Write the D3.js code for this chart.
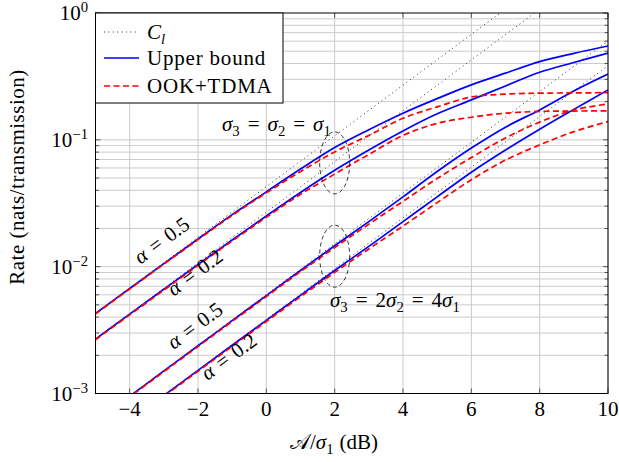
<!DOCTYPE html>
<html><head><meta charset="utf-8">
<script src="https://cdn.jsdelivr.net/npm/d3@7"></script>
<style>body{margin:0;background:#fff} text{fill:#000}</style>
</head><body><svg id="c" width="619" height="462" font-family="'Liberation Serif', 'DejaVu Serif', serif"></svg>
<script>
// ---------- data ----------
const snr = [-5,-4,-3,-2,-1,0,1,2,3,4,5,6,7,8,9,10];          // A/sigma1 (dB)
const snrCl = [-5,0,5,10];
// sigma3 = sigma2 = sigma1
const clEqA05 = [0.00428,0.0428,0.428,4.28];
const clEqA02 = [0.00269,0.0269,0.269,2.69];
const ubEqA05 = [0.004276,0.00673,0.01057,0.01652,0.0257,0.0389,0.0589,0.0871,0.1202,0.1622,0.2113,0.271,0.3357,0.414,0.481,0.5495];
const ookEqA05= [0.004246,0.006668,0.01047,0.01633,0.02535,0.0382,0.05623,0.08035,0.1084,0.1479,0.182,0.2178,0.2291,0.2333,0.2344,0.2355];
const ubEqA02 = [0.002685,0.004227,0.006637,0.0104,0.01622,0.02512,0.03846,0.05754,0.08318,0.1175,0.1603,0.2065,0.2661,0.3412,0.4074,0.4831];
const ookEqA02= [0.002655,0.004169,0.006531,0.01023,0.01592,0.02455,0.03715,0.0537,0.0767,0.1084,0.1349,0.1507,0.1622,0.1675,0.1687,0.169];
// sigma3 = 2 sigma2 = 4 sigma1
const clUnA05 = [0.000603,0.00603,0.0603,0.603];
const clUnA02 = [0.000384,0.00384,0.0384,0.384];
const ubUnA05 = [0.0006026,0.0009506,0.001507,0.002377,0.003758,0.005916,0.009333,0.01462,0.02265,0.03548,0.05623,0.0861,0.1259,0.1722,0.2427,0.3296];
const ookUnA05= [0.0005957,0.0009397,0.001486,0.002344,0.003698,0.005808,0.00912,0.01413,0.02163,0.03273,0.04955,0.07244,0.1035,0.138,0.1718,0.1919];
const ubUnA02 = [0.0003837,0.000608,0.000964,0.00152,0.002399,0.003776,0.005943,0.009333,0.01445,0.02265,0.03548,0.05559,0.08318,0.1213,0.1738,0.2477];
const ookUnA02= [0.0003802,0.0006026,0.0009506,0.001496,0.002355,0.003698,0.005794,0.009016,0.0138,0.02089,0.03199,0.04842,0.06918,0.0912,0.1161,0.1393];

const xTicks = [-4,-2,0,2,4,6,8,10];
const xTickLabels = ["\u22124","\u22122","0","2","4","6","8","10"];
const yTicks = [1e-3,1e-2,1e-1,1];
const yTickExp = ["\u22123","\u22122","\u22121","0"];
const legendLabels = ["Upper bound","OOK+TDMA"];

// ---------- layout ----------
const svg = d3.select("#c");
const L=95.5, R=608, T=13, B=393.5;
const x = d3.scaleLinear().domain([-5,10]).range([L,R]);
const y = d3.scaleLog().domain([1e-3,1]).range([B,T]);
const FS = 21;

function rich(sel, parts, size){
  let off=0;
  parts.forEach(p=>{
    const ts=sel.append("tspan").text(p.t);
    const target = p.sub?5:(p.sup?-8:0);
    ts.attr("dy", target-off); off=target;
    if(p.sub||p.sup) ts.attr("font-size", size*0.7);
    if(p.it) ts.attr("font-style","italic");
    if(p.dx) ts.attr("dx", p.dx);
  });
}

svg.append("defs").append("clipPath").attr("id","clip")
  .append("rect").attr("x",L).attr("y",T).attr("width",R-L).attr("height",B-T);

// grid
const grid = svg.append("g").attr("stroke","#cbcbcb").attr("stroke-width",1);
const minor=[];
for(let e=-3;e<0;e++) for(let k=1;k<10;k++) minor.push(k*Math.pow(10,e));
grid.selectAll(".h").data(minor).join("line")
  .attr("x1",L).attr("x2",R).attr("y1",d=>y(d)).attr("y2",d=>y(d));
grid.selectAll(".v").data(xTicks).join("line")
  .attr("y1",T).attr("y2",B).attr("x1",d=>x(d)).attr("x2",d=>x(d));

// ticks (inward)
const tk = svg.append("g").attr("stroke","#333").attr("stroke-width",0.8);
xTicks.forEach(v=>{
  tk.append("line").attr("x1",x(v)).attr("x2",x(v)).attr("y1",B).attr("y2",B-5);
  tk.append("line").attr("x1",x(v)).attr("x2",x(v)).attr("y1",T).attr("y2",T+5);
});
minor.concat([1]).forEach(v=>{
  const maj = yTicks.some(t=>Math.abs(t-v)/v<1e-6);
  const len = maj?5:3.5;
  tk.append("line").attr("x1",L).attr("x2",L+len).attr("y1",y(v)).attr("y2",y(v));
  tk.append("line").attr("x1",R).attr("x2",R-len).attr("y1",y(v)).attr("y2",y(v));
});

// curves
const plot = svg.append("g").attr("clip-path","url(#clip)");
const line = d3.line().x(d=>x(d[0])).y(d=>y(d[1])).curve(d3.curveCatmullRom.alpha(0.5));
const zipS = (xs,vs)=>xs.map((v,i)=>[v,vs[i]]);
[clEqA05,clEqA02,clUnA05,clUnA02].forEach(s=>{
  plot.append("path").attr("d",line(zipS(snrCl,s))).attr("fill","none")
    .attr("stroke","#333").attr("stroke-width",1).attr("stroke-dasharray","1,3.4");
});
[ubEqA05,ubEqA02,ubUnA05,ubUnA02].forEach(s=>{
  plot.append("path").attr("d",line(zipS(snr,s))).attr("fill","none")
    .attr("stroke","#0000ff").attr("stroke-width",1.7);
});
[ookEqA05,ookEqA02,ookUnA05,ookUnA02].forEach(s=>{
  plot.append("path").attr("d",line(zipS(snr,s))).attr("fill","none")
    .attr("stroke","#ff0000").attr("stroke-width",1.7).attr("stroke-dasharray","6,3.5");
});

// ellipses (annotation)
[[2,0.0658],[2,0.0121]].forEach(c=>{
  svg.append("ellipse").attr("cx",x(c[0])).attr("cy",y(c[1])).attr("rx",15).attr("ry",31)
    .attr("fill","none").attr("stroke","#000").attr("stroke-width",0.8).attr("stroke-dasharray","4,3");
});

// frame
svg.append("rect").attr("x",L).attr("y",T).attr("width",R-L).attr("height",B-T)
  .attr("fill","none").attr("stroke","#000").attr("stroke-width",1);

// tick labels
xTicks.forEach((v,i)=>{
  svg.append("text").attr("x",x(v)).attr("y",416).attr("text-anchor","middle")
    .attr("font-size",FS).text(xTickLabels[i]);
});
yTicks.forEach((v,i)=>{
  const t=svg.append("text").attr("x",88).attr("y",y(v)+7).attr("text-anchor","end").attr("font-size",FS);
  rich(t,[{t:"10"},{t:yTickExp[i],sup:true}],FS);
});

// axis titles
const xl = svg.append("text").attr("x",334).attr("y",449).attr("font-size",FS).attr("text-anchor","middle");
rich(xl,[{t:"\uD835\uDC9C"},{t:"/"},{t:"\u03C3",it:true},{t:"1",sub:true},{t:"(dB)",dx:6}],FS);
svg.append("text").attr("transform","translate(24,177) rotate(-90)")
  .attr("text-anchor","middle").attr("font-size",FS).attr("letter-spacing",0.5).text("Rate (nats/transmission)");

// alpha labels
const ang=-36.5;
[[-2.94,0.01455,"0.5"],[-1.97,0.00813,"0.2"],[-1.97,0.0031,"0.5"],[-0.976,0.001766,"0.2"]].forEach(a=>{
  const t=svg.append("text").attr("transform",`translate(${x(a[0])},${y(a[1])}) rotate(${ang})`)
    .attr("text-anchor","middle").attr("dy","0.35em").attr("font-size",FS);
  rich(t,[{t:"\u03B1",it:true},{t:"=",dx:7},{t:a[2],dx:7}],FS);
});

// sigma labels
const s1=svg.append("text").attr("x",222).attr("y",131).attr("font-size",FS);
rich(s1,[{t:"\u03C3",it:true},{t:"3",sub:true},{t:"=",dx:8},{t:"\u03C3",it:true,dx:8},{t:"2",sub:true},
  {t:"=",dx:8},{t:"\u03C3",it:true,dx:8},{t:"1",sub:true}],FS);
const s2=svg.append("text").attr("x",330).attr("y",307).attr("font-size",FS);
rich(s2,[{t:"\u03C3",it:true},{t:"3",sub:true},{t:"=",dx:8},{t:"2",dx:8},{t:"\u03C3",it:true},{t:"2",sub:true},
  {t:"=",dx:8},{t:"4",dx:8},{t:"\u03C3",it:true},{t:"1",sub:true}],FS);

// legend
const lg = svg.append("g");
lg.append("rect").attr("x",L).attr("y",T).attr("width",187.5).attr("height",90)
  .attr("fill","#fff").attr("stroke","#000").attr("stroke-width",1);
const rows=[32,58,86];
lg.append("line").attr("x1",104).attr("x2",139).attr("y1",rows[0]).attr("y2",rows[0])
  .attr("stroke","#333").attr("stroke-width",1).attr("stroke-dasharray","1,3.4");
lg.append("line").attr("x1",104).attr("x2",139).attr("y1",rows[1]).attr("y2",rows[1])
  .attr("stroke","#0000ff").attr("stroke-width",1.7);
lg.append("line").attr("x1",104).attr("x2",139).attr("y1",rows[2]).attr("y2",rows[2])
  .attr("stroke","#ff0000").attr("stroke-width",1.7).attr("stroke-dasharray","6,3.5");
const l0=lg.append("text").attr("x",147).attr("y",rows[0]+7).attr("font-size",FS);
rich(l0,[{t:"C",it:true},{t:"l",it:true,sub:true}],FS);
legendLabels.forEach((s,i)=>{
  lg.append("text").attr("x",147).attr("y",rows[i+1]+7).attr("font-size",FS).attr("letter-spacing",0.8).text(s);
});
</script></body></html>
